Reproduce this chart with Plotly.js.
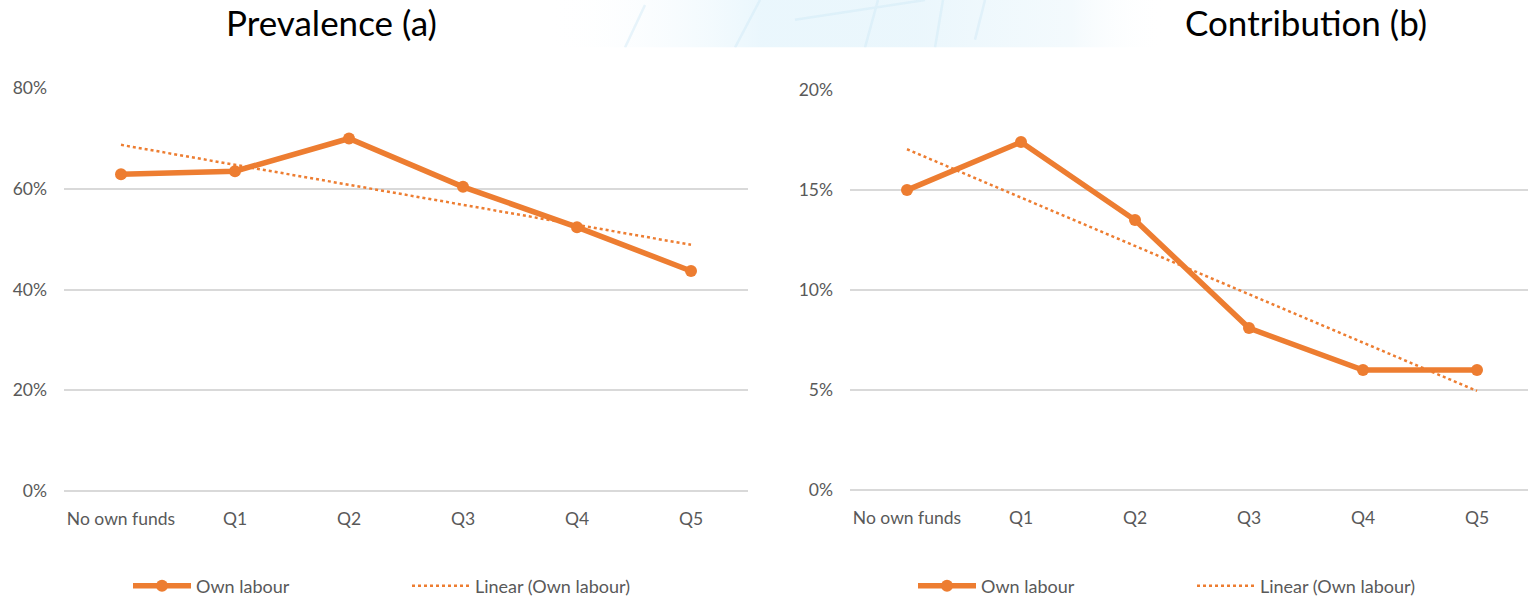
<!DOCTYPE html>
<html>
<head>
<meta charset="utf-8">
<script src="https://cdn.plot.ly/plotly-3.0.1.min.js"></script>
<style>
html,body{margin:0;padding:0;background:#fff;}
#chart{width:1528px;height:605px;}
</style>
</head>
<body>
<div id="chart"></div>
<script>
// ---- data ----
const categories = ['No own funds', 'Q1', 'Q2', 'Q3', 'Q4', 'Q5'];
const prevalence = [0.629, 0.635, 0.700, 0.604, 0.524, 0.437];   // panel (a)
const contribution = [0.150, 0.174, 0.135, 0.081, 0.060, 0.060]; // panel (b)
const prevTicks = [0, 0.2, 0.4, 0.6, 0.8];
const contribTicks = [0, 0.05, 0.10, 0.15, 0.20];
const seriesName = 'Own labour';
const trendName = 'Linear (Own labour)';
const titles = ['Prevalence (a)', 'Contribution (b)'];

// least-squares linear trendline (as Excel's "Linear" trendline)
function linearTrend(vals) {
  const n = vals.length;
  const xs = vals.map((_, i) => i);
  const mx = xs.reduce((a, b) => a + b, 0) / n;
  const my = vals.reduce((a, b) => a + b, 0) / n;
  let num = 0, den = 0;
  xs.forEach((x, i) => { num += (x - mx) * (vals[i] - my); den += (x - mx) * (x - mx); });
  const slope = num / den, icpt = my - slope * mx;
  return xs.map(x => icpt + slope * x);
}

const ORANGE = '#ED7D31';
const W = 1528, H = 605;
const FONT = 'Lato, "Open Sans", sans-serif';
const tickFont = {family: FONT, size: 17.5, color: '#595959'};

function mainTrace(vals, xa, ya, lg) {
  return {
    x: categories, y: vals, xaxis: xa, yaxis: ya, legend: lg,
    type: 'scatter', mode: 'lines+markers', name: seriesName,
    line: {color: ORANGE, width: 5.5},
    marker: {color: ORANGE, size: 12},
    hoverinfo: 'x+y'
  };
}
function trendTrace(vals, xa, ya, lg) {
  return {
    x: categories, y: linearTrend(vals), xaxis: xa, yaxis: ya, legend: lg,
    type: 'scatter', mode: 'lines', name: trendName,
    line: {color: ORANGE, width: 2.5, dash: 'dot'},
    hoverinfo: 'skip'
  };
}

const data = [
  mainTrace(prevalence, 'x', 'y', 'legend'),
  trendTrace(prevalence, 'x', 'y', 'legend'),
  mainTrace(contribution, 'x2', 'y2', 'legend2'),
  trendTrace(contribution, 'x2', 'y2', 'legend2')
];

const px = v => v / W;
const py = v => (H - v) / H;

const yCommon = {
  tickformat: '.0%', showline: false, ticks: '',
  gridcolor: '#d9d9d9', gridwidth: 1.5,
  zeroline: true, zerolinecolor: '#d9d9d9', zerolinewidth: 1.5,
  tickfont: tickFont, ticklabelstandoff: 16, automargin: false, fixedrange: true
};
const xCommon = {
  type: 'category', showgrid: false, showline: false, zeroline: false, ticks: '',
  tickfont: tickFont, ticklabelstandoff: 15, automargin: false, fixedrange: true
};
const legendCommon = {
  orientation: 'h', xanchor: 'left', yanchor: 'middle',
  font: {family: FONT, size: 18, color: '#595959'},
  bgcolor: 'rgba(0,0,0,0)', entrywidth: 206, entrywidthmode: 'pixels',
  itemwidth: 58,
  itemclick: false, itemdoubleclick: false
};

const layout = {
  width: W, height: H,
  margin: {l: 0, r: 0, t: 0, b: 0},
  paper_bgcolor: '#ffffff', plot_bgcolor: 'rgba(0,0,0,0)',
  showlegend: true,
  xaxis: Object.assign({}, xCommon, {domain: [px(64), px(748)], range: [-0.5, 5.5], anchor: 'y'}),
  yaxis: Object.assign({}, yCommon, {domain: [py(496), py(89)], range: [0, 0.8], tickvals: prevTicks, anchor: 'x'}),
  xaxis2: Object.assign({}, xCommon, {domain: [px(850), 1], range: [-0.5, 5.5 - 6 / 114], anchor: 'y2'}),
  yaxis2: Object.assign({}, yCommon, {domain: [py(495), py(91)], range: [0, 0.2], tickvals: contribTicks, anchor: 'x2'}),
  legend: Object.assign({}, legendCommon, {x: px(128), y: py(592)}),
  legend2: Object.assign({}, legendCommon, {x: px(913), y: py(592)}),
  annotations: [
    {text: titles[0], xref: 'paper', yref: 'paper', x: px(331), y: py(22), xanchor: 'center', yanchor: 'middle',
     showarrow: false, font: {family: FONT, size: 35, color: '#000000'}},
    {text: titles[1], xref: 'paper', yref: 'paper', x: px(1306), y: py(22), xanchor: 'center', yanchor: 'middle',
     showarrow: false, font: {family: FONT, size: 35, color: '#000000'}}
  ],
  images: [{
    source: 'data:image/svg+xml;utf8,' + encodeURIComponent(
      '<svg xmlns="http://www.w3.org/2000/svg" width="620" height="48">' +
      '<defs><linearGradient id="g" x1="0" x2="1" y1="0" y2="0">' +
      '<stop offset="0" stop-color="#ffffff" stop-opacity="0"/>' +
      '<stop offset="0.35" stop-color="#dcf1fb" stop-opacity="0.6"/>' +
      '<stop offset="0.6" stop-color="#e2f3fb" stop-opacity="0.7"/>' +
      '<stop offset="0.85" stop-color="#e8f5fb" stop-opacity="0.5"/>' +
      '<stop offset="1" stop-color="#ffffff" stop-opacity="0"/></linearGradient></defs>' +
      '<rect width="620" height="48" fill="url(#g)"/>' +
      '<g stroke="#cfe8f6" stroke-width="2.5" opacity="0.45">' +
      '<line x1="80" y1="48" x2="100" y2="5"/><line x1="190" y1="48" x2="215" y2="0"/>' +
      '<line x1="320" y1="48" x2="333" y2="0"/><line x1="390" y1="48" x2="398" y2="0"/>' +
      '<line x1="430" y1="40" x2="440" y2="0"/><line x1="250" y1="20" x2="380" y2="0"/></g>' +
      '</svg>'),
    xref: 'paper', yref: 'paper', x: px(545), y: 1, sizex: px(620), sizey: 48 / H,
    xanchor: 'left', yanchor: 'top', sizing: 'stretch', layer: 'below'
  }]
};

Plotly.newPlot('chart', data, layout, {displayModeBar: false});
</script>
</body>
</html>
